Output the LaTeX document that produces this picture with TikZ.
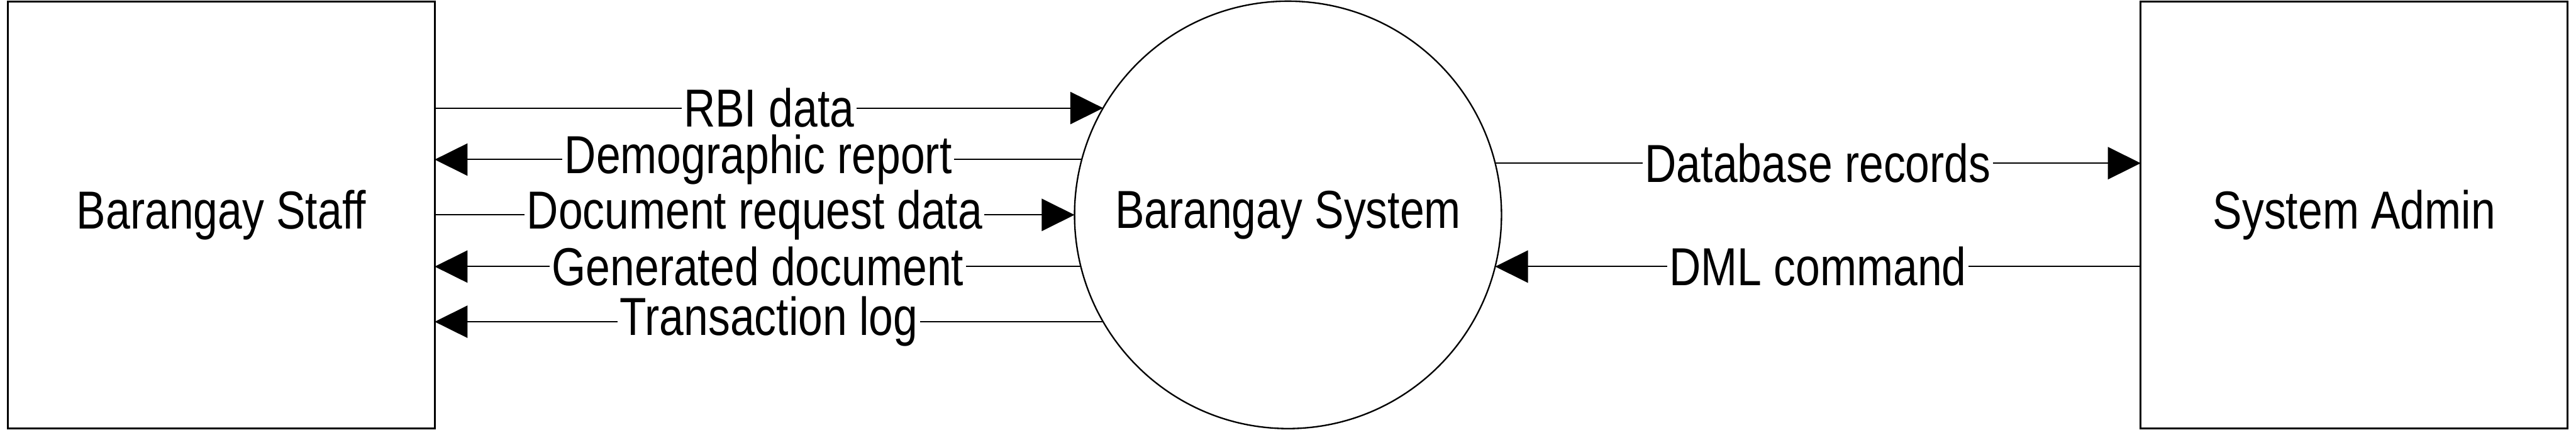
\documentclass[tikz,border=0pt]{standalone}
\usepackage{fontspec}
\setmainfont{Liberation Sans}[FakeStretch=0.82]
\usetikzlibrary{arrows.meta,positioning}

\begin{document}
\begin{tikzpicture}[
  >={Triangle[length=5.5mm,width=5.4mm]},
  every node/.style={font=\fontsize{25.5pt}{30pt}\selectfont},
  entity/.style={draw,line width=0.9pt,minimum width=7.16cm,minimum height=7.15cm,inner sep=0pt,outer sep=0pt},
  process/.style={draw,circle,line width=0.7pt,minimum size=7.16cm,inner sep=0pt,outer sep=0pt},
  flow/.style={line width=0.6pt},
  lbl/.style={fill=white,inner xsep=1pt,inner ysep=1pt}
]
  \useasboundingbox (0,0) rectangle (43.2,7.2);
  \node[entity] (staff) at (3.71,3.6) {Barangay Staff};
  \node[process] (sys) at (21.6,3.6) {Barangay System};
  \node[entity] (admin) at (39.48,3.6) {System Admin};
  \draw[flow,->] (staff.east |- sys.150) -- node[lbl] {RBI data} (sys.150);
  \draw[flow,<-] (staff.east |- sys.165.5) -- node[lbl] {Demographic report} (sys.165.5);
  \draw[flow,->] (staff.east |- sys.west) -- node[lbl] {Document request data} (sys.west);
  \draw[flow,<-] (staff.east |- sys.194.5) -- node[lbl] {Generated document} (sys.194.5);
  \draw[flow,<-] (staff.east |- sys.210) -- node[lbl] {Transaction log} (sys.210);
  \draw[flow,->] (sys.14.5) -- node[lbl] {Database records} (admin.west |- sys.14.5);
  \draw[flow,<-] (sys.-14.5) -- node[lbl] {DML command} (admin.west |- sys.-14.5);
\end{tikzpicture}
\end{document}
